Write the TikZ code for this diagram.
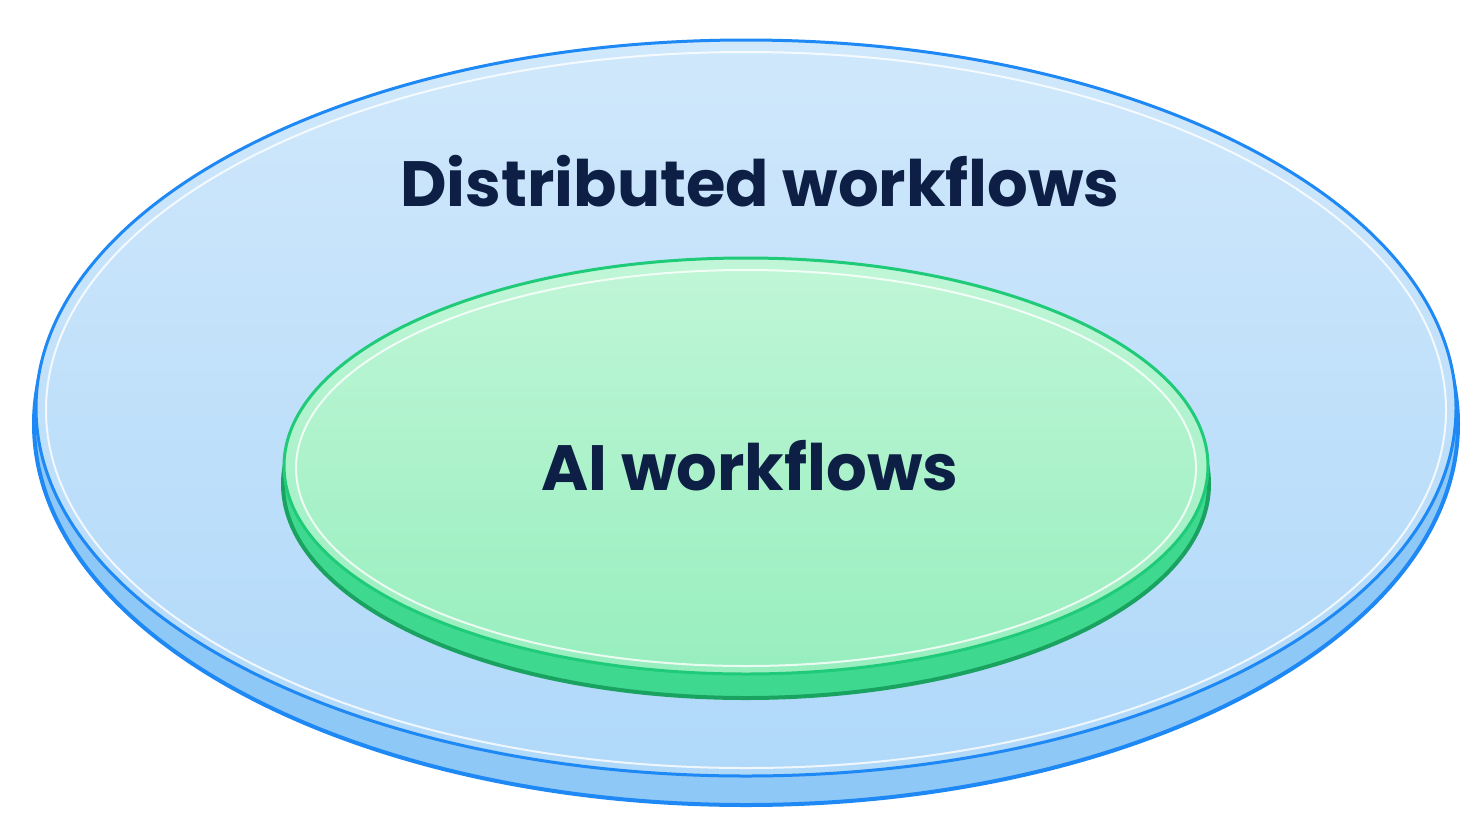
\documentclass[tikz,border=0pt]{standalone}
\usepackage{fontspec}
\setmainfont{Poppins}
\begin{document}
\begin{tikzpicture}[x=1pt,y=-1pt,
  lbl/.style={font=\bfseries\fontsize{64}{68}\selectfont, text=navy}]
\definecolor{navy}{HTML}{0E1F45}
\definecolor{bedge}{HTML}{1E88F5}
\definecolor{bfill}{HTML}{C4E2FA}
\definecolor{bside}{HTML}{8EC8F7}
\definecolor{gedge}{HTML}{1FCB78}
\definecolor{gfill}{HTML}{A5F2C6}
\definecolor{gside}{HTML}{3ED98F}
\useasboundingbox (0,0) rectangle (1483,839);
\fill[white] (0,0) rectangle (1483,839);
% outer disc
\draw[bedge, line width=4pt, fill=bside] (746,424) ellipse [x radius=712, y radius=381];
\draw[bedge, line width=3pt, top color=bfill!80, bottom color=bside!70] (746,408) ellipse [x radius=710, y radius=368];
\draw[white, line width=2pt, opacity=.8] (746,410) ellipse [x radius=700, y radius=358];
% inner disc
\draw[gedge!80!black, line width=4pt, fill=gside] (746,484) ellipse [x radius=463, y radius=214];
\draw[gedge, line width=3pt, top color=gfill!70, bottom color=gfill!90!gedge] (746,466) ellipse [x radius=462, y radius=208];
\draw[white, line width=2pt, opacity=.8] (746,468) ellipse [x radius=450, y radius=198];
\node[lbl] (outer) at (760,181) {Distributed workflows};
\node[lbl] (inner) at (750,466) {AI workflows};
\end{tikzpicture}
\end{document}
